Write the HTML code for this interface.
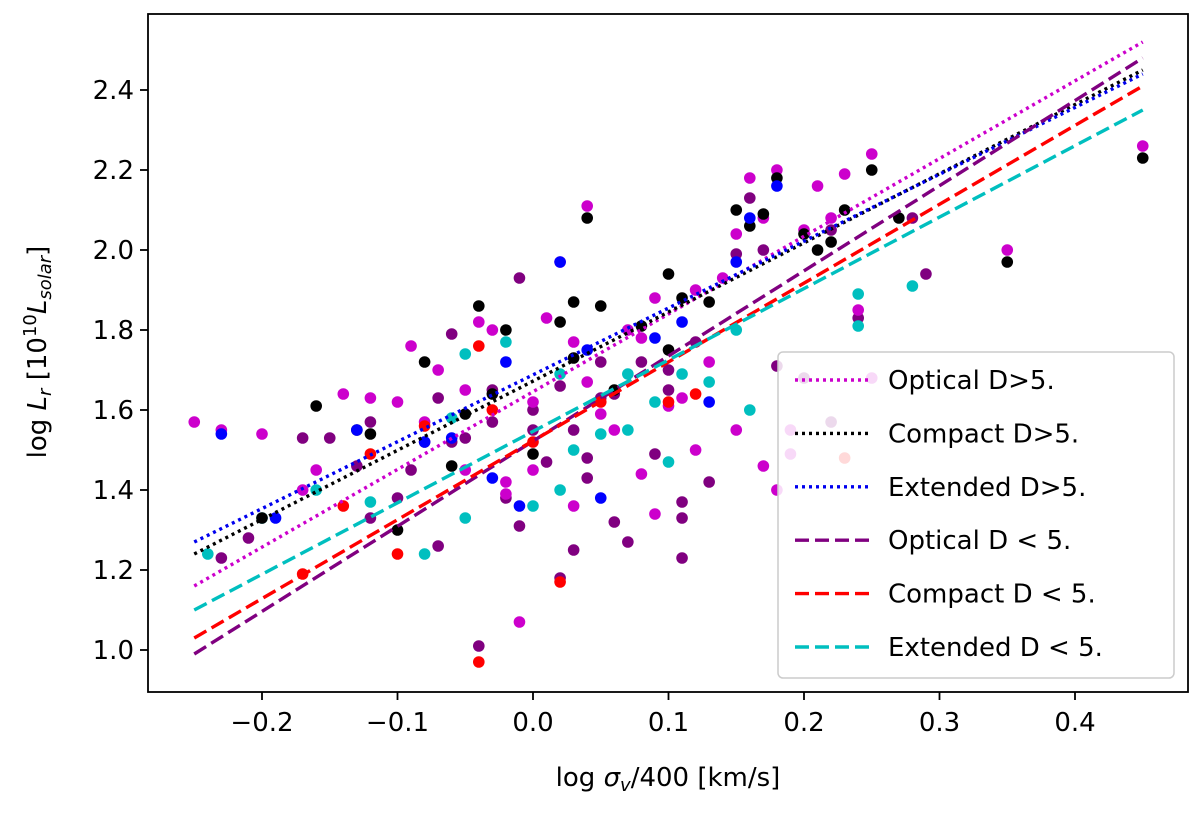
<!DOCTYPE html>
<html><head><meta charset="utf-8"><style>
html,body{margin:0;padding:0;background:#fff;}
svg text{font-family:"DejaVu Sans","Liberation Sans",sans-serif;}
</style></head><body>
<svg id="chart" width="1200" height="808" viewBox="0 0 1200 808">
<rect x="0" y="0" width="1200" height="808" fill="#fff"/>
<g id="points"></g>
<g id="lines"></g>
<rect x="148" y="14" width="1040" height="678" fill="none" stroke="#000" stroke-width="1.8"/>
<g id="axes"></g>
<text x="668" y="786" font-size="26" text-anchor="middle">log <tspan font-style="italic">σ</tspan><tspan font-style="italic" font-size="18" dy="5">v</tspan><tspan dy="-5">/400 [km/s]</tspan></text>
<text transform="translate(46,352) rotate(-90)" font-size="26" text-anchor="middle">log <tspan font-style="italic">L</tspan><tspan font-style="italic" font-size="18" dy="5">r</tspan><tspan dy="-5"> [10</tspan><tspan font-size="18" dy="-10">10</tspan><tspan font-style="italic" dy="10">L</tspan><tspan font-style="italic" font-size="18" dy="5">solar</tspan><tspan dy="-5">]</tspan></text>
<g id="legend">
<rect x="778" y="352" width="396" height="326" rx="5" fill="#fff" fill-opacity="0.85" stroke="#ccc" stroke-width="1.5"/>
</g>
</svg>
<script>
const xTicks=[-0.2,-0.1,0.0,0.1,0.2,0.3,0.4];
const xTickLabels=["−0.2","−0.1","0.0","0.1","0.2","0.3","0.4"];
const yTicks=[1.0,1.2,1.4,1.6,1.8,2.0,2.2,2.4];
const yTickLabels=["1.0","1.2","1.4","1.6","1.8","2.0","2.2","2.4"];
const fitNames=["Optical D>5.","Compact D>5.","Extended D>5.","Optical D < 5.","Compact D < 5.","Extended D < 5."];
const fitX=[-0.25,0.45];
const fitStart=[1.16,1.24,1.27,0.99,1.03,1.10];
const fitEnd=[2.52,2.45,2.44,2.48,2.41,2.35];
const magentaPts=[[-0.25,1.57],[-0.23,1.55],[-0.2,1.54],[-0.17,1.40],[-0.16,1.45],[-0.14,1.64],[-0.12,1.63],[-0.1,1.62],[-0.09,1.76],[-0.08,1.57],[-0.07,1.70],[-0.05,1.65],[-0.04,1.82],[-0.03,1.80],[-0.02,1.42],[-0.01,1.07],[0.0,1.62],[0.01,1.83],[0.02,1.97],[0.03,1.77],[0.04,2.11],[0.04,1.67],[0.05,1.59],[0.06,1.55],[0.07,1.80],[0.08,1.78],[0.09,1.88],[0.1,1.61],[0.11,1.63],[0.12,1.90],[0.13,1.72],[0.14,1.93],[0.15,2.04],[0.16,2.18],[0.17,2.08],[0.18,2.20],[0.19,1.49],[0.2,2.05],[0.21,2.16],[0.22,2.08],[0.23,2.19],[0.24,1.85],[0.25,2.24],[0.25,1.68],[0.35,2.00],[0.45,2.26],[0.19,1.55],[0.03,1.36],[-0.02,1.39],[0.09,1.34],[0.08,1.44],[0.0,1.45],[-0.05,1.45],[0.12,1.5],[0.15,1.55],[0.17,1.46],[0.18,1.40]];
const purplePts=[[-0.23,1.23],[-0.21,1.28],[-0.17,1.53],[-0.15,1.53],[-0.13,1.46],[-0.12,1.33],[-0.1,1.38],[-0.08,1.52],[-0.07,1.63],[-0.06,1.79],[-0.05,1.53],[-0.04,1.01],[-0.03,1.57],[-0.02,1.38],[-0.01,1.93],[0.0,1.55],[0.01,1.47],[0.02,1.18],[0.03,1.25],[0.03,1.55],[0.04,1.43],[0.05,1.72],[0.06,1.64],[0.07,1.27],[0.08,1.72],[0.09,1.49],[0.1,1.70],[0.11,1.23],[0.11,1.37],[0.13,1.42],[0.15,1.99],[0.16,2.13],[0.17,2.0],[0.2,1.68],[0.22,2.05],[0.24,1.83],[0.29,1.94],[0.28,2.08],[-0.12,1.57],[-0.09,1.45],[-0.06,1.52],[-0.03,1.65],[0.0,1.6],[0.02,1.66],[0.05,1.63],[0.1,1.65],[0.12,1.77],[0.04,1.48],[-0.07,1.26],[-0.01,1.31],[0.06,1.32],[0.11,1.33],[0.18,1.71],[0.22,1.57]];
const blackPts=[[-0.2,1.33],[-0.16,1.61],[-0.13,1.55],[-0.12,1.54],[-0.1,1.30],[-0.08,1.72],[-0.06,1.46],[-0.05,1.59],[-0.04,1.86],[-0.03,1.64],[-0.02,1.80],[0.0,1.49],[0.02,1.82],[0.03,1.87],[0.03,1.73],[0.04,2.08],[0.05,1.86],[0.06,1.65],[0.08,1.81],[0.1,1.94],[0.11,1.88],[0.13,1.87],[0.15,2.1],[0.16,2.06],[0.17,2.09],[0.18,2.18],[0.2,2.04],[0.21,2.0],[0.22,2.02],[0.23,2.1],[0.25,2.2],[0.27,2.08],[0.35,1.97],[0.45,2.23],[0.1,1.75]];
const bluePts=[[-0.23,1.54],[-0.19,1.33],[-0.13,1.55],[-0.08,1.52],[-0.06,1.53],[-0.03,1.43],[-0.02,1.72],[-0.01,1.36],[0.02,1.97],[0.04,1.75],[0.05,1.38],[0.09,1.78],[0.11,1.82],[0.15,1.97],[0.16,2.08],[0.18,2.16],[0.13,1.62]];
const redPts=[[-0.17,1.19],[-0.14,1.36],[-0.12,1.49],[-0.1,1.24],[-0.08,1.56],[-0.04,0.97],[-0.04,1.76],[-0.03,1.60],[0.0,1.52],[0.02,1.17],[0.05,1.62],[0.12,1.64],[0.1,1.62],[0.23,1.48]];
const cyanPts=[[-0.24,1.24],[-0.2,1.33],[-0.16,1.40],[-0.12,1.37],[-0.08,1.24],[-0.06,1.58],[-0.05,1.74],[-0.05,1.33],[-0.02,1.77],[0.0,1.36],[0.02,1.40],[0.03,1.50],[0.05,1.54],[0.07,1.55],[0.09,1.62],[0.1,1.47],[0.13,1.67],[0.15,1.80],[0.16,1.60],[0.24,1.89],[0.24,1.81],[0.28,1.91],[0.07,1.69],[0.11,1.69],[0.02,1.69]];

const NS="http://www.w3.org/2000/svg";
function xs(v){return 533+v*1355;}
function ys(v){return 650-(v-1.0)*400;}
function mk(t,a,p){const e=document.createElementNS(NS,t);for(const k in a)e.setAttribute(k,a[k]);p.appendChild(e);return e;}

const fitColors=["#cc00cc","#000000","#0000ee","#800080","#ff0000","#00bfbf"];
const fitDash=["3,4","3,4","3,4","14,6","14,6","14,6"];

const ptsG=document.getElementById('points');
const groups=[[purplePts,"#800080","purple"],[magentaPts,"#cc00cc","magenta"],[cyanPts,"#00bfbf","cyan"],[redPts,"#ff0000","red"],[blackPts,"#000000","black"],[bluePts,"#0000ff","blue"]];
groups.forEach(g=>{g[0].forEach(p=>{
  const c=mk('circle',{cx:xs(p[0]),cy:ys(p[1]),r:5.8,fill:g[1]},ptsG);
  
  
});});

const linesG=document.getElementById('lines');
fitNames.forEach((n,i)=>{
  const l=mk('line',{x1:xs(fitX[0]),y1:ys(fitStart[i]),x2:xs(fitX[1]),y2:ys(fitEnd[i]),stroke:fitColors[i],'stroke-width':3.4,'stroke-dasharray':fitDash[i]},linesG);
  
  
});

const ax=document.getElementById('axes');
xTicks.forEach((v,i)=>{
  const t=mk('line',{x1:xs(v),x2:xs(v),y1:692,y2:700,stroke:'#000','stroke-width':1.8},ax);
  
  
  const tx=mk('text',{x:xs(v),y:731,'font-size':26,'text-anchor':'middle'},ax);
  tx.textContent=xTickLabels[i];
  
  
});
yTicks.forEach((v,i)=>{
  const t=mk('line',{x1:140,x2:148,y1:ys(v),y2:ys(v),stroke:'#000','stroke-width':1.8},ax);
  
  
  const tx=mk('text',{x:134,y:ys(v)+9,'font-size':26,'text-anchor':'end'},ax);
  tx.textContent=yTickLabels[i];
  
  
});

const lg=document.getElementById('legend');
fitNames.forEach((n,i)=>{
  const y=380+i*53.4;
  const l=mk('line',{x1:795,x2:870,y1:y,y2:y,stroke:fitColors[i],'stroke-width':3.4,'stroke-dasharray':fitDash[i]},lg);
  
  
  const t=mk('text',{x:888,y:y+9,'font-size':26},lg);
  t.textContent=n;
  
  
});
</script>
</body></html>
